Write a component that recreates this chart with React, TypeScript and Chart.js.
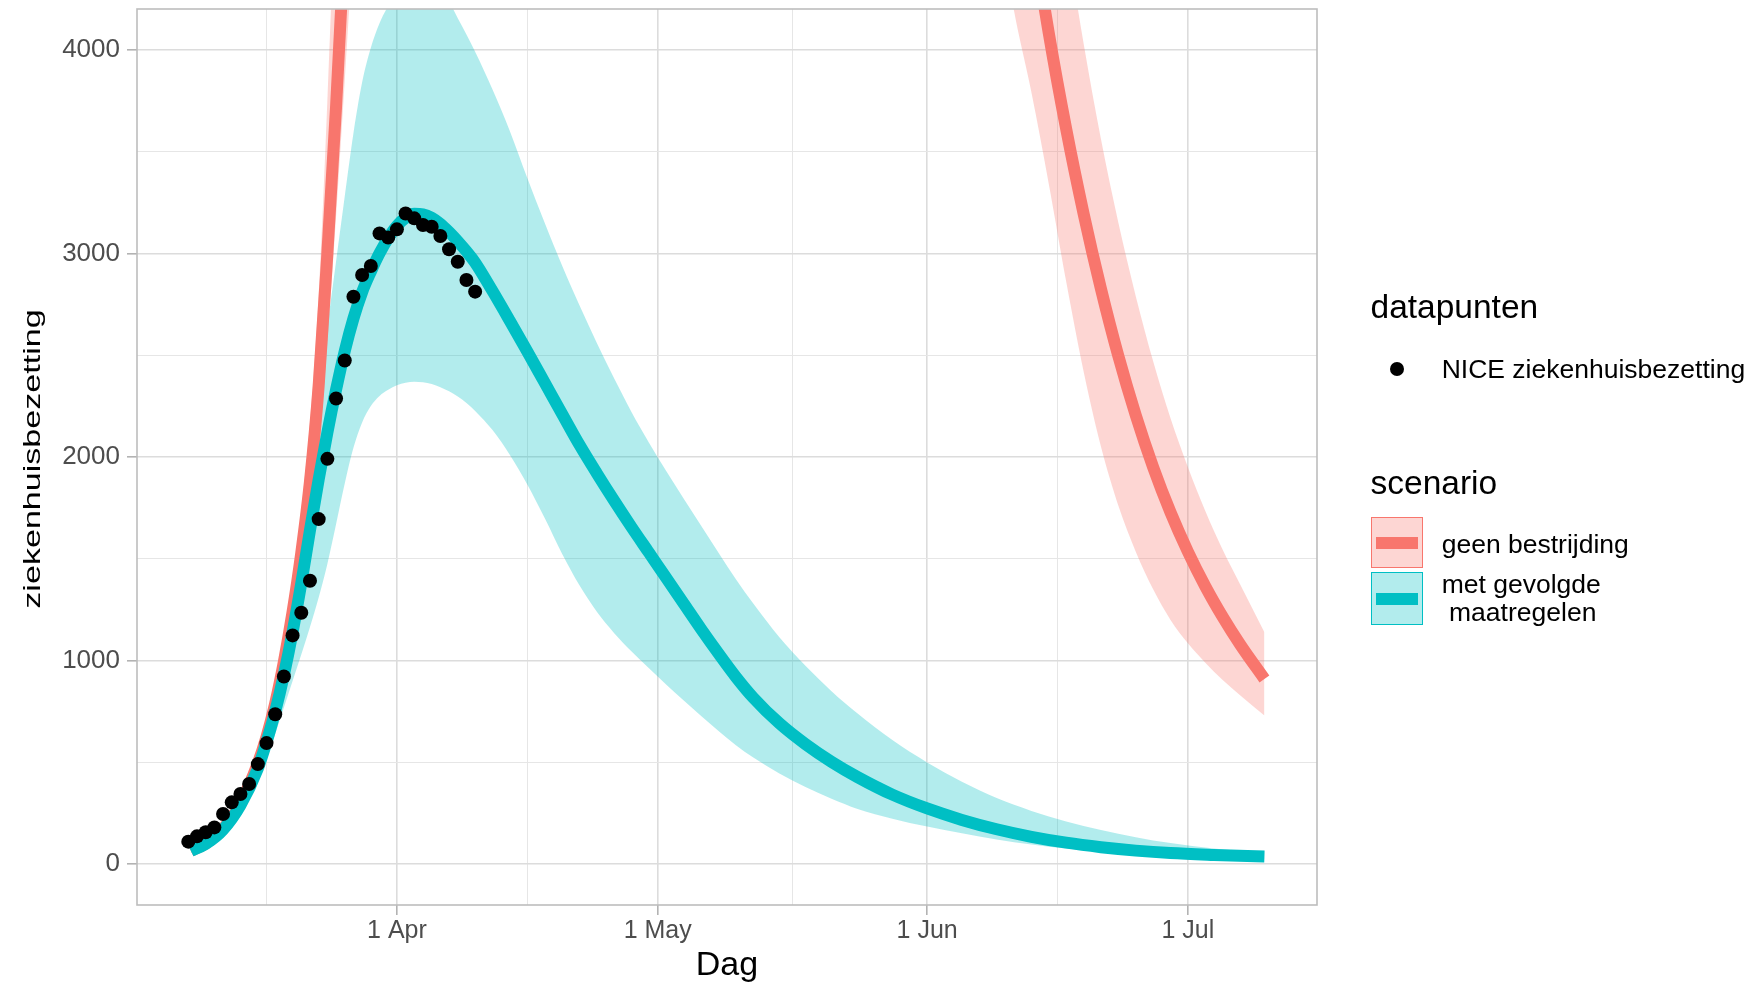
import React, { useEffect, useRef } from 'react';
import { Chart, registerables } from 'chart.js';

Chart.register(...registerables);

const FONT = '"Liberation Sans", Arial, Helvetica, sans-serif';

// x values are days since 1 March (1 Mar = 0, 1 Apr = 31, ...)
const niceDays = [7, 8, 9, 10, 11, 12, 13, 14, 15, 16, 17, 18, 19, 20, 21, 22, 23, 24, 25, 26, 27, 28, 29, 30, 31, 32, 33, 34, 35, 36, 37, 38, 39, 40];
const niceValues = [111, 137, 157, 181, 247, 304, 345, 394, 492, 595, 737, 922, 1124, 1235, 1392, 1695, 1991, 2287, 2474, 2787, 2894, 2938, 3098, 3078, 3118, 3196, 3172, 3139, 3131, 3085, 3020, 2959, 2869, 2812];

const tealDays = [7.3, 9, 11, 13, 15, 16, 17, 18, 19, 20, 21, 22, 23, 24, 25, 26, 27, 28, 29, 30, 31, 32, 33, 34, 35, 36, 37, 38, 39, 40, 42, 44, 46, 48, 50, 52, 54, 56, 58, 60, 62, 64, 66, 68, 70, 72, 75, 78, 81, 84, 88, 92, 96, 100, 104, 108, 112, 116, 120, 125, 130.8];
const tealMedian = [66, 100, 170, 290, 470, 600, 750, 930, 1140, 1380, 1640, 1890, 2120, 2330, 2520, 2680, 2810, 2910, 3000, 3075, 3135, 3175, 3195, 3192, 3175, 3145, 3105, 3060, 3010, 2955, 2815, 2668, 2518, 2365, 2212, 2060, 1920, 1785, 1655, 1530, 1405, 1280, 1155, 1035, 920, 818, 692, 590, 503, 428, 342, 274, 218, 172, 135, 106, 84, 67, 55, 46, 38];
const tealUpper = [72, 115, 195, 330, 530, 670, 850, 1080, 1360, 1680, 2000, 2320, 2640, 2960, 3280, 3590, 3840, 4010, 4130, 4215, 4280, 4320, 4340, 4340, 4320, 4285, 4235, 4155, 4075, 3990, 3805, 3600, 3370, 3150, 2940, 2745, 2560, 2385, 2220, 2070, 1930, 1795, 1662, 1530, 1400, 1280, 1115, 975, 850, 740, 610, 500, 405, 325, 262, 210, 168, 133, 104, 78, 58];
const tealLower = [57, 88, 150, 255, 410, 515, 640, 770, 900, 1030, 1165, 1310, 1475, 1670, 1870, 2045, 2170, 2250, 2300, 2330, 2352, 2365, 2370, 2367, 2358, 2343, 2323, 2297, 2265, 2226, 2132, 2010, 1865, 1700, 1525, 1370, 1240, 1135, 1045, 962, 882, 804, 728, 654, 585, 524, 446, 380, 322, 272, 224, 185, 152, 122, 97, 77, 61, 48, 39, 30, 23];

const redDays = [7.3, 9, 11, 13, 15, 16, 17, 18, 19, 20, 21, 22, 23, 24, 25, 26, 28, 30, 35, 40, 50, 60, 70, 80, 90, 95, 100, 102, 104, 106, 108, 110, 112, 114, 116, 118, 120, 122, 124, 126, 128, 130.8];
const redMedian = [66, 102, 174, 298, 495, 625, 790, 995, 1240, 1530, 1880, 2350, 3000, 3720, 4550, 5500, 7800, 10500, 17500, 24000, 31000, 31000, 25000, 17000, 10800, 7950, 5850, 5220, 4620, 4080, 3610, 3195, 2825, 2495, 2205, 1950, 1728, 1535, 1365, 1215, 1080, 910];
const redUpper = [72, 112, 192, 330, 550, 700, 880, 1110, 1390, 1740, 2170, 2800, 3750, 4900, 6200, 7600, 10500, 13500, 22000, 30000, 39000, 40000, 34000, 24000, 13700, 10000, 7370, 6520, 5770, 5100, 4560, 4030, 3560, 3150, 2790, 2470, 2190, 1950, 1735, 1545, 1375, 1140];
const redLower = [57, 92, 158, 270, 448, 565, 710, 890, 1100, 1350, 1650, 2040, 2560, 3180, 3850, 4550, 6000, 7800, 12500, 17000, 22500, 23000, 18500, 12000, 7600, 6000, 4700, 4190, 3790, 3340, 2860, 2420, 2050, 1760, 1535, 1350, 1200, 1085, 990, 905, 830, 730];

const xTickDays = [31, 61, 92, 122];
const xTickLabels = ['1 Apr', '1 May', '1 Jun', '1 Jul'];
const xMinorDays = [16, 46, 76.5, 107];
const yTickValues = [0, 1000, 2000, 3000, 4000];
const yMinorValues = [500, 1500, 2500, 3500];

const xTitle = 'Dag';
const yTitle = 'ziekenhuisbezetting';
const pointsLegendTitle = 'datapunten';
const pointsLegendLabel = 'NICE ziekenhuisbezetting';
const scenarioLegendTitle = 'scenario';
const scenarioLabels = ['geen bestrijding', 'met gevolgde\n maatregelen'];

const RED = '#F8766D';
const TEAL = '#00BFC4';
const RED_FILL = 'rgba(248,118,109,0.3)';
const TEAL_FILL = 'rgba(0,191,196,0.3)';
const GRID_MAJOR = '#DCDCDC';
const GRID_MINOR = '#E6E6E6';
const TICK_COLOR = '#B3B3B3';

const pts = (xs: number[], ys: number[]) => xs.map((x, i) => ({ x, y: ys[i] }));

const panelPlugin = {
  id: 'panelBorder',
  afterDatasetsDraw(chart: any) {
    const { ctx, chartArea: a } = chart;
    ctx.save();
    ctx.strokeStyle = '#BDBDBD';
    ctx.lineWidth = 1.6;
    ctx.strokeRect(a.left, a.top, a.right - a.left, a.bottom - a.top);
    ctx.restore();
  },
};

const yTitlePlugin = {
  id: 'yTitle',
  afterDraw(chart: any) {
    const { ctx, chartArea: a } = chart;
    ctx.save();
    ctx.translate(39.5, (a.top + a.bottom) / 2 + 2);
    ctx.rotate(-Math.PI / 2);
    ctx.scale(1.42, 1);
    ctx.font = `24px ${FONT}`;
    ctx.fillStyle = '#000';
    ctx.textAlign = 'center';
    ctx.textBaseline = 'alphabetic';
    ctx.fillText(yTitle, 0, 0);
    ctx.restore();
  },
};

function Text({ left, baseline, size, children, pre }: any) {
  return (
    <div
      style={{
        position: 'absolute',
        left,
        top: baseline - 0.8465 * size,
        fontSize: size,
        lineHeight: 1,
        whiteSpace: pre ? 'pre' : 'nowrap',
        color: '#000',
        fontFamily: FONT,
      }}
    >
      {children}
    </div>
  );
}

function Key({ top, height, color, fill }: any) {
  return (
    <div
      style={{
        position: 'absolute',
        left: 1371,
        top,
        width: 52,
        height,
        boxSizing: 'border-box',
        border: `1.5px solid ${color}`,
        background: fill,
      }}
    >
      <div
        style={{
          position: 'absolute',
          left: 4,
          right: 4,
          top: '50%',
          height: 12,
          marginTop: -6,
          background: color,
        }}
      />
    </div>
  );
}

export default function App() {
  const ref = useRef<HTMLCanvasElement | null>(null);

  useEffect(() => {
    document.body.style.margin = '0';
    document.body.style.overflow = 'hidden';
    if (!ref.current) return;
    const isMajorX = (v: number) => xTickDays.indexOf(v) >= 0;
    const isMajorY = (v: number) => yTickValues.indexOf(v) >= 0;
    const lineCommon = {
      pointRadius: 0,
      cubicInterpolationMode: 'monotone',
      borderJoinStyle: 'round',
      clip: 0,
    };
    const chart = new Chart(ref.current, {
      type: 'line',
      data: {
        datasets: [
          {
            label: pointsLegendLabel,
            data: pts(niceDays, niceValues),
            showLine: false,
            pointRadius: 7,
            pointBackgroundColor: '#000',
            pointBorderWidth: 0,
            borderColor: '#000',
            backgroundColor: '#000',
            order: 0,
            clip: 0,
          },
          {
            ...lineCommon,
            label: 'met gevolgde maatregelen',
            data: pts(tealDays, tealMedian),
            borderColor: TEAL,
            borderWidth: 12,
            fill: false,
            order: 1,
          },
          {
            ...lineCommon,
            label: 'geen bestrijding',
            data: pts(redDays, redMedian),
            borderColor: RED,
            borderWidth: 12,
            fill: false,
            order: 2,
          },
          {
            ...lineCommon,
            label: 'teal upper',
            data: pts(tealDays, tealUpper),
            borderColor: 'transparent',
            borderWidth: 0,
            backgroundColor: TEAL_FILL,
            fill: '+1',
            order: 3,
          },
          {
            ...lineCommon,
            label: 'teal lower',
            data: pts(tealDays, tealLower),
            borderColor: 'transparent',
            borderWidth: 0,
            fill: false,
            order: 3,
          },
          {
            ...lineCommon,
            label: 'red upper',
            data: pts(redDays, redUpper),
            borderColor: 'transparent',
            borderWidth: 0,
            backgroundColor: RED_FILL,
            fill: '+1',
            order: 4,
          },
          {
            ...lineCommon,
            label: 'red lower',
            data: pts(redDays, redLower),
            borderColor: 'transparent',
            borderWidth: 0,
            fill: false,
            order: 4,
          },
        ] as any,
      },
      options: {
        responsive: false,
        animation: false,
        devicePixelRatio: 1,
        events: [],
        layout: { padding: { left: 0, top: 9, right: 445, bottom: 0 }, autoPadding: false } as any,
        plugins: {
          legend: { display: false },
          tooltip: { enabled: false },
          title: { display: false },
        },
        scales: {
          x: {
            type: 'linear',
            min: 1.1,
            max: 136.85,
            bounds: 'data',
            afterBuildTicks: (s: any) => {
              s.ticks = [...xMinorDays, ...xTickDays].sort((a, b) => a - b).map((v) => ({ value: v }));
            },
            afterFit: (s: any) => {
              s.height = 83;
              s.paddingLeft = 0;
              s.paddingRight = 0;
              s.paddingTop = 0;
              s.paddingBottom = 0;
            },
            ticks: {
              autoSkip: false,
              maxRotation: 0,
              minRotation: 0,
              padding: 1,
              color: '#4D4D4D',
              font: { family: FONT, size: 25, lineHeight: 1.2 },
              callback: (v: any) => {
                const i = xTickDays.indexOf(Number(v));
                return i >= 0 ? xTickLabels[i] : '';
              },
            },
            grid: {
              color: (c: any) => (isMajorX(c.tick?.value) ? GRID_MAJOR : GRID_MINOR),
              lineWidth: (c: any) => (isMajorX(c.tick?.value) ? 1.6 : 1),
              tickColor: (c: any) => (isMajorX(c.tick?.value) ? TICK_COLOR : 'rgba(0,0,0,0)'),
              tickLength: 10,
              tickWidth: 1.6,
              drawTicks: true,
            },
            border: { display: false },
            title: {
              display: true,
              text: xTitle,
              color: '#000',
              font: { family: FONT, size: 34, lineHeight: 1 },
              padding: { top: 0, bottom: 5.5 },
            },
          },
          y: {
            type: 'linear',
            min: -200,
            max: 4200,
            bounds: 'data',
            afterBuildTicks: (s: any) => {
              s.ticks = [...yTickValues, ...yMinorValues].sort((a, b) => a - b).map((v) => ({ value: v }));
            },
            afterFit: (s: any) => {
              s.width = 137;
              s.paddingLeft = 0;
              s.paddingRight = 0;
              s.paddingTop = 0;
              s.paddingBottom = 0;
            },
            ticks: {
              autoSkip: false,
              padding: 7,
              color: '#4D4D4D',
              font: { family: FONT, size: 26 },
              callback: (v: any) => (isMajorY(Number(v)) ? String(v) : ''),
            },
            grid: {
              color: (c: any) => (isMajorY(c.tick?.value) ? GRID_MAJOR : GRID_MINOR),
              lineWidth: (c: any) => (isMajorY(c.tick?.value) ? 1.6 : 1),
              tickColor: (c: any) => (isMajorY(c.tick?.value) ? TICK_COLOR : 'rgba(0,0,0,0)'),
              tickLength: 10,
              tickWidth: 1.6,
              drawTicks: true,
            },
            border: { display: false },
            title: { display: false },
          },
        },
      } as any,
      plugins: [panelPlugin, yTitlePlugin],
    });
    return () => chart.destroy();
  }, []);

  return (
    <div
      style={{
        position: 'absolute',
        left: 0,
        top: 0,
        width: 1762,
        height: 988,
        background: '#fff',
        overflow: 'hidden',
        fontFamily: FONT,
      }}
    >
      <canvas ref={ref} width={1762} height={988} style={{ display: 'block', width: 1762, height: 988 }} />
      <Text left={1370.5} baseline={318} size={33.5}>{pointsLegendTitle}</Text>
      <div
        style={{
          position: 'absolute',
          left: 1396.7 - 7,
          top: 369 - 7,
          width: 14,
          height: 14,
          borderRadius: '50%',
          background: '#000',
        }}
      />
      <Text left={1441.7} baseline={378.5} size={26.5}>{pointsLegendLabel}</Text>
      <Text left={1370.5} baseline={494} size={33.5}>{scenarioLegendTitle}</Text>
      <Key top={517} height={51} color={RED} fill={RED_FILL} />
      <Key top={572} height={53} color={TEAL} fill={TEAL_FILL} />
      <Text left={1441.7} baseline={553} size={26.5}>{scenarioLabels[0]}</Text>
      <Text left={1441.7} baseline={593} size={26.5}>{scenarioLabels[1].split('\n')[0]}</Text>
      <Text left={1441.7} baseline={621.5} size={26.5} pre>{scenarioLabels[1].split('\n')[1]}</Text>
    </div>
  );
}
